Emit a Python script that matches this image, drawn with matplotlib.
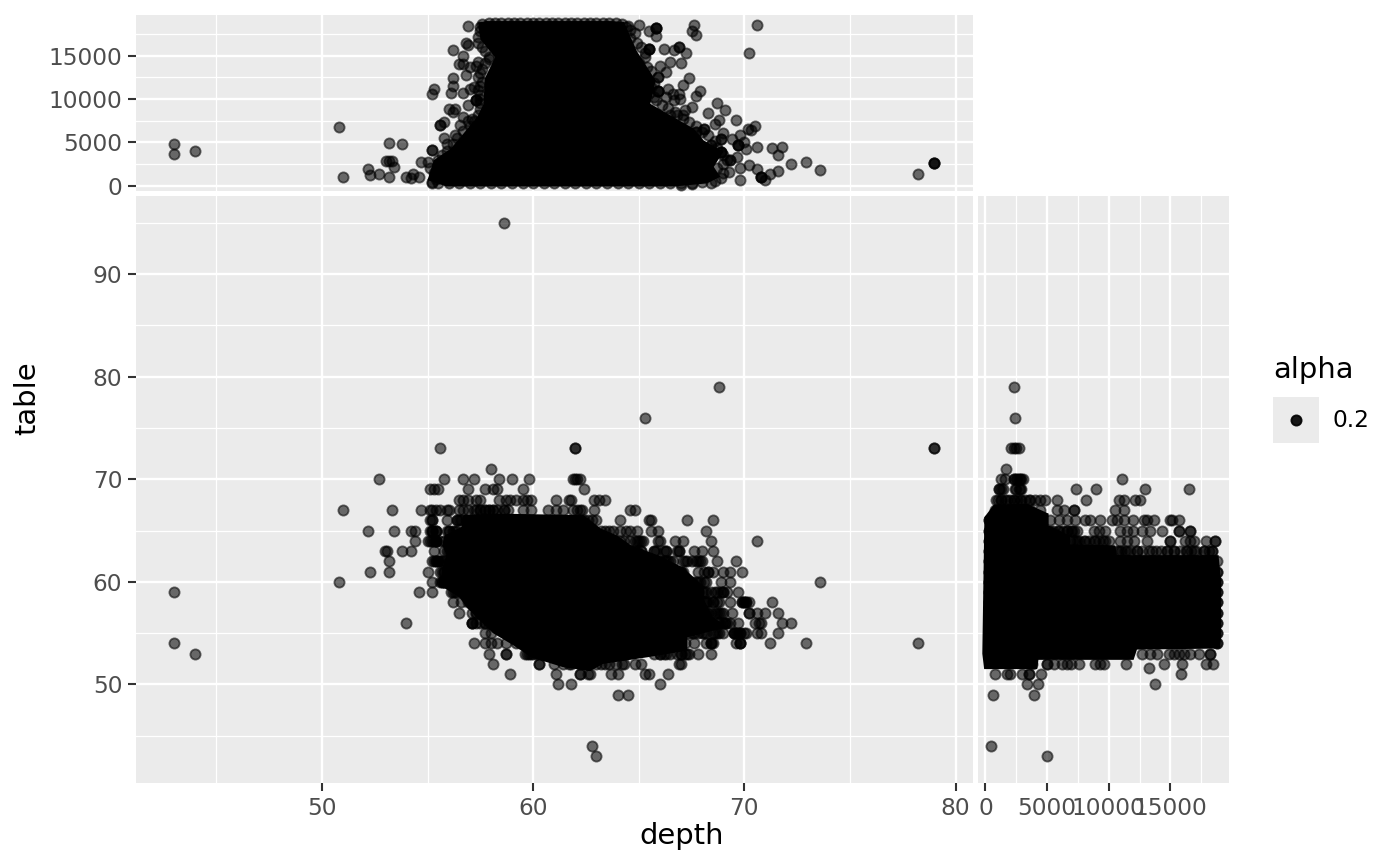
import matplotlib
matplotlib.use("Agg")
import matplotlib.pyplot as plt
import numpy as np
from matplotlib.ticker import FixedLocator

# scattered points of the depth / table panel, one row per table value
main_tables = [73, 71, 70, 69, 68, 67, 66, 65, 64, 63, 62, 61, 60, 59, 58, 57, 56, 55, 54, 53, 52, 51, 50, 49]
main_depths = [
    [55.6, 62.0, 62.0],
    [58.0],
    [52.7, 55.8, 56.7, 57.2, 58.4, 59.0, 59.8, 61.9, 62.0, 62.1, 62.2],
    [55.1, 55.3, 55.5, 56.9, 57.7, 58.1, 58.3, 59.5, 62.4],
    [56.5, 56.7, 56.9, 57.3, 57.5, 58.4, 58.7, 58.9, 59.2, 59.5, 59.7, 59.9, 61.1, 61.7, 61.8, 62.9, 63.1, 63.4],
    [51.0, 53.3, 54.7, 55.1, 55.2, 55.4, 55.6, 55.9, 56.0, 56.5, 56.7, 56.9, 57.2, 57.5, 57.7, 57.9, 58.1, 58.6,
     59.5, 59.9, 60.7, 61.1, 61.4, 61.9, 62.1, 62.2, 62.3, 62.9, 64.6, 64.8],
    [55.1, 55.2, 55.2, 55.9, 56.4, 62.8, 63.0, 64.1, 65.5, 65.6, 67.3, 68.5],
    [52.2, 53.4, 54.2, 54.4, 55.2, 55.2, 55.4, 55.4, 56.0, 56.3, 63.6, 63.8, 64.1, 64.4, 64.6, 64.9, 65.6, 65.9, 68.2],
    [54.4, 55.2, 55.4, 55.4, 64.1, 64.6, 64.9, 65.1, 65.9, 66.0, 66.7, 67.1, 68.4, 70.6],
    [53.0, 53.1, 53.8, 54.2, 55.3, 55.9, 64.8, 65.1, 65.7, 66.3, 66.9, 67.6, 68.0, 68.5],
    [53.2, 55.4, 55.5, 55.5, 66.0, 66.3, 66.5, 67.2, 67.8, 68.0, 68.7, 69.6],
    [52.3, 53.2, 55.0, 55.8, 55.8, 66.8, 67.0, 67.8, 68.3, 69.0, 69.3, 69.9],
    [50.8, 55.2, 55.7, 55.8, 55.8, 68.2, 67.8, 68.9, 69.3, 73.6],
    [54.6, 55.2, 56.3, 56.4, 67.3, 67.8, 68.1, 68.6, 69.0, 69.7],
    [56.2, 56.9, 57.0, 67.1, 67.6, 68.2, 68.5, 69.3, 69.9, 70.0, 70.1, 71.3],
    [56.5, 57.1, 57.3, 57.5, 68.1, 68.3, 68.7, 69.0, 69.4, 70.2, 70.2, 70.6, 71.0, 71.6],
    [54.0, 57.1, 57.1, 57.7, 68.1, 68.7, 69.1, 69.7, 70.5, 70.7, 70.8, 71.8, 72.2],
    [57.7, 58.0, 67.5, 68.1, 68.7, 69.5, 69.5, 69.8, 70.1, 70.6, 70.8, 71.6],
    [57.2, 57.7, 58.0, 58.3, 58.7, 67.6, 68.4, 68.4, 69.8, 69.8, 71.2, 72.9, 78.2, 43.0],
    [57.9, 58.7, 58.7, 59.7, 59.9, 66.0, 66.3, 67.0, 67.3, 67.8, 68.4, 44.0],
    [58.1, 60.3, 60.3, 61.0, 61.4, 61.7, 63.6, 64.2, 64.8, 65.1, 66.9, 67.0],
    [58.9, 61.1, 62.2, 62.6, 62.2, 62.7, 63.7, 64.0, 65.3, 65.5, 66.4],
    [61.2, 61.8, 66.0],
    [64.0, 64.5],
]
outlier_depth = [43.0, 58.6, 68.8, 65.3, 79.0, 79.0, 62.8, 63.0]
outlier_table = [59, 95, 79, 76, 73, 73, 44, 43]

# dark, crowded rows around the solid part of the cloud
halo_tables = [67, 66, 65, 64, 63, 62, 61, 60, 59, 58, 57, 56, 55, 54, 53, 52]
halo_depths = [
    [57.3, 57.5, 57.7, 57.9, 58.1, 58.3, 58.6, 58.8],
    [56.4, 56.5, 56.6, 56.8, 62.4, 62.6],
    [55.1, 55.2, 55.4, 55.9, 56.0, 56.2, 56.4, 63.2, 63.4],
    [55.0, 55.1, 55.3, 55.4, 55.6, 55.8, 56.0, 56.2, 56.4, 64.3, 64.8, 65.0, 65.2],
    [55.8, 56.0, 64.9, 65.1, 65.7, 65.8, 66.2, 66.3, 66.8, 66.9],
    [55.2, 55.3, 55.4, 55.6, 55.7, 55.8, 56.0, 66.0, 66.2, 66.4, 66.6, 67.1, 67.3, 67.5, 67.7, 67.9],
    [55.6, 55.7, 66.6, 66.8, 67.0, 67.1, 68.1, 68.3, 68.5],
    [55.6, 55.7, 55.8, 67.1, 67.3, 67.5, 67.7, 67.9, 68.1],
    [56.1, 56.2, 67.4, 67.6, 67.8, 68.0, 68.2, 68.4, 68.7, 68.9, 69.0, 69.2],
    [56.6, 68.1, 68.2, 68.3, 68.5, 68.7, 68.8, 69.9, 70.0, 70.1, 70.2],
    [57.3, 57.5, 68.0, 68.2, 68.4, 68.6, 68.8, 68.9],
    [57.1, 57.3, 57.5, 57.7, 57.9, 58.1, 68.8, 69.0, 69.1, 69.2, 69.3],
    [67.4, 67.6, 67.8, 68.0, 68.2, 68.5, 68.6, 68.8, 69.0, 69.5, 69.6, 69.7, 69.8, 70.0],
    [59.2, 59.4, 67.2, 68.2, 68.4, 68.5, 69.6, 69.8],
    [59.6, 59.8, 60.0, 60.2, 60.4, 60.6, 65.7, 66.0, 66.2, 66.5, 66.8, 67.0, 67.2, 67.4],
    [61.8, 62.2, 62.6, 63.0, 63.2, 63.4, 63.9, 64.3],
]

# solid black part of the depth / table cloud
core_depth = [56.7, 56.6, 55.8, 55.7, 55.9, 55.7, 55.6, 56.5, 56.9, 57.5, 58.1, 59.2, 59.9, 61.4, 62.7, 63.3, 65.4,
              67.3, 67.3, 69.2, 68.5, 68.1, 68.1, 67.1, 65.9, 64.6, 64.0, 63.2, 62.4, 58.3]
core_table = [66.5, 65.35, 64.5, 63.6, 62.6, 61.3, 59.65, 58.5, 57.4, 56.2, 55.0, 53.65, 52.65, 51.7, 51.3, 52.0, 52.65,
              53.3, 54.6, 55.6, 56.6, 58.2, 59.5, 61.4, 62.6, 63.6, 64.5, 65.2, 66.5, 66.65]

# scattered points of the price / table panel
side_tables = [79, 76, 73, 71, 70, 69, 68, 67, 66, 65, 64, 63, 62, 53, 52, 51, 50, 49, 44, 43]
side_prices = [
    [2321],
    [2375],
    [2078, 2294, 2510, 2726],
    [1646],
    [1268, 1619, 2294, 2564, 2834, 3050, 11096],
    [1079, 1403, 2429, 2834, 7343, 8990, 12932, 16523],
    [890, 1268, 1754, 2294, 2834, 3644, 4049, 4454, 4859, 5804, 8180, 10800, 11258, 12149, 12554],
    [809, 1484, 3644, 4454, 5804, 6344, 7208, 7208, 10529, 11258],
    [5264, 5939, 6614, 7289, 8099, 8504, 9314, 10259, 10664, 11204, 11960, 12824, 13094, 13688, 14930, 15119, 15659],
    [5939, 6614, 7019, 7424, 8774, 9179, 9719, 10934, 11474, 11960, 12689, 13364, 14309, 15659, 15659, 16604, 16604],
    [6884, 7424, 8099, 8909, 9719, 10934, 11474, 12014, 13094, 14930, 14930, 16199, 16604, 16874, 17900, 18575, 18575],
    [10799, 11474, 12284, 13499, 14714, 15254, 16334, 16874, 17684, 18359],
    [18764],
    [12690, 13365, 13905, 14850, 15255, 15660, 16065, 16605, 17280, 18225, 18225],
    [3780, 5000, 5000, 5535, 6210, 6615, 6966, 7614, 8910, 9315, 9640, 11394, 14499, 15957, 17901, 18441],
    [810, 1755, 1971, 2970, 3510, 3510, 4509, 15876],
    [3375, 4239, 13770],
    [648, 3969],
    [486],
    [5000],
]
extra_price = [13230]
extra_table = [51.6]

side_halo_tables = [70, 69, 68, 66, 65, 64, 63, 62, 61, 60, 59, 58, 57, 56, 55, 54, 53]
side_halo_prices = [
    [2300, 2500, 2700, 2900],
    [1100, 1300, 2500, 2700, 2900],
    [1000, 1300, 1600, 2000, 2300, 2600, 2900, 3200, 3500],
    [330, 330],
    [330, 330, 5200, 5500, 5900, 6300, 6600, 6900, 7200],
    [330, 330, 7100, 7300, 7600, 8000, 8400, 8800, 9200, 9500, 10000],
    [330, 330, 10700, 11000, 11300, 11700, 12300, 12700, 13300, 13800, 14200, 14700, 15300, 15800, 16300, 16700, 17100,
     17700, 18100, 18400],
    [330, 330],
    [330, 330, 18800, 18800],
    [330, 330, 18800, 18800],
    [330, 330, 18800, 18800],
    [330, 330, 18800, 18800],
    [330, 330, 18800, 18800],
    [330, 330, 18800, 18800],
    [330, 330, 18800, 18800],
    [330, 330, 18800, 18800],
    [330, 330],
]

side_core_price = [-82, 674, 3374, 5129, 5129, 6884, 6884, 10529, 10664, 18899, 19100, 19100, 19034, 12284, 12014,
                   4300, 4200, -100, -250]
side_core_table = [66.3, 67.5, 67.6, 66.65, 65.5, 64.5, 63.65, 63.55, 62.6, 62.6, 60.1, 54.6, 53.5, 53.4, 52.4,
                   52.4, 51.5, 51.5, 53.0]

# scattered points of the depth / price panel
top_depth = [43.0, 43.0, 44.0, 50.8, 51.0, 53.2, 53.8, 52.2, 52.3, 52.7, 53.2, 53.05, 53.2, 53.3, 53.4, 54.0, 54.2,
             54.3, 54.6, 54.7, 55.0, 55.2, 55.2, 55.2, 55.2, 55.3, 55.8, 55.9, 55.6, 55.6, 55.8, 56.1, 56.2, 56.2,
             56.7, 56.2, 56.7, 56.9, 56.8, 56.9, 56.5, 56.7, 56.8, 57.0, 57.4, 57.9, 57.0, 57.2, 57.3, 57.3, 57.3,
             56.9, 56.0, 56.3, 56.2, 56.7, 56.9, 56.55, 56.3, 57.1,
             65.0, 64.5, 65.8, 65.8, 65.8, 65.8, 65.5, 67.6, 67.5, 67.7, 70.6, 70.2, 66.9, 66.9, 67.25, 66.2, 66.65,
             65.5, 65.5, 65.5, 67.0, 66.5, 66.0, 66.3, 65.9, 65.9, 67.4, 67.1, 67.9, 67.7, 65.9, 65.9, 65.9, 66.4,
             66.6, 66.9, 66.3, 66.65, 66.95, 67.5, 68.7, 69.1, 68.3, 68.8, 69.6, 70.5, 70.15, 70.3, 66.5, 66.8, 67.1,
             67.2, 68.6, 68.1, 68.1, 67.7, 67.7, 69.0, 69.4, 69.8, 70.0, 69.7, 69.7, 69.7, 68.9, 68.9, 68.4, 68.4,
             70.6, 71.3, 71.8, 71.6, 70.1, 72.2, 72.9, 73.6, 71.6, 71.2, 70.8, 70.8, 70.8, 71.0, 70.6, 70.2, 69.8,
             69.8, 69.25, 69.3, 69.3, 69.65, 68.9, 68.9, 68.9, 78.2, 79.0, 79.0, 79.0]
top_price = [4775, 3625, 4010, 6730, 980, 4966, 4775, 1940, 1213, 1327, 1020, 2821, 2821, 2821, 2170, 1020, 830,
             1327, 1020, 2706, 2706, 4085, 4085, 447, 10596, 11170, 5540, 4850, 6960, 6960, 7340, 10710, 11477, 12434,
             10710, 15650, 15000, 18486, 16420, 16264, 14043, 14043, 12818, 13660, 14235, 14810, 11170, 11362, 9830,
             9830, 9830, 9332, 8872, 8872, 8490, 7915, 7455, 6958, 5800, 7724,
             18562, 18450, 18256, 18256, 18256, 17300, 17870, 18524, 17870, 17375, 18524, 15307, 16035, 16035, 15269,
             15767, 15650, 15767, 15767, 15767, 14158, 14235, 13852, 13085, 12510, 12510, 12434, 11668, 10900, 10400,
             10900, 10900, 10900, 11170, 10600, 10600, 10213, 9830, 10022, 9064, 9524, 8758, 8375, 7532, 7608, 6843,
             6575, 6400, 8106, 8106, 8106, 8680, 7072, 6575, 6575, 6190, 6190, 6077, 5425, 5885, 5043, 4660, 4660,
             4660, 5349, 5349, 4660, 4660, 4468, 4391, 4468, 3587, 4276, 2515, 2706, 1787, 1710, 1327, 1020, 1020,
             1020, 640, 1864, 2362, 1978, 600, 1600, 3013, 3013, 3320, 3900, 3900, 3900, 1290, 2590, 2590, 2590]

top_halo_depth = [55.1, 55.3, 55.4, 55.2, 55.5, 55.7, 55.9, 56.2, 56.4, 56.7, 57.0, 57.2, 57.4, 57.5,
                  57.5, 57.5, 57.5, 57.4, 57.5, 57.6, 57.4, 57.5, 57.6, 57.3, 57.7, 57.9, 57.7, 57.6, 57.4, 57.4,
                  57.5, 57.5, 57.6,
                  64.2, 64.4, 64.6, 64.8, 64.6, 64.9, 65.1, 65.3, 65.3, 65.0, 65.4, 65.6, 65.3, 65.7, 65.6, 65.5,
                  65.7, 65.8, 66.1, 66.4, 66.7, 67.1, 67.4, 67.7, 68.0, 68.3, 68.6, 68.7, 69.0, 69.2, 69.0, 68.7,
                  69.0, 68.9, 68.6, 68.4, 68.0, 67.5, 67.0,
                  55.5, 56.0, 56.5, 57.0, 57.5, 58.0, 58.5, 59.0, 59.5, 60.0, 60.5, 61.0, 61.5, 62.0, 62.5, 63.0,
                  63.5, 64.0, 64.5, 65.0, 65.5, 66.0, 66.5, 67.0, 67.5,
                  57.9, 58.2, 58.5, 58.8, 59.1, 59.4, 59.7, 60.0, 60.3, 60.6, 60.9, 61.2, 61.5, 61.8, 62.1, 62.4,
                  62.7, 63.0, 63.3, 63.6, 63.9]
top_halo_price = [2000, 1500, 800, 300, 3000, 3500, 4000, 4800, 5500, 6300, 6900, 7500, 8200, 8800,
                  9500, 10000, 10500, 11000, 11500, 12000, 12500, 13000, 13500, 13800, 14200, 14600, 15500, 16000,
                  16500, 17200, 17800, 18300, 18700,
                  18700, 18300, 18000, 17600, 17000, 16500, 16000, 15300, 14800, 14200, 13700, 13200, 12700, 11800,
                  11400, 10700, 10200, 9900, 9300, 9000, 8500, 7700, 7300, 6900, 6200, 5800, 5200, 4400, 3500, 3000,
                  2500, 2000, 1500, 900, 500, 300, 400, 200, 100,
                  340, 340, 340, 340, 340, 340, 340, 340, 340, 340, 340, 340, 340, 340, 340, 340,
                  340, 340, 340, 340, 340, 340, 340, 340, 340,
                  18800, 18800, 18800, 18800, 18800, 18800, 18800, 18800, 18800, 18800, 18800, 18800, 18800, 18800,
                  18800, 18800, 18800, 18800, 18800, 18800, 18800]

top_core_depth = [57.4, 57.5, 58.2, 57.7, 57.66, 57.35, 56.7, 56.1, 55.3, 55.0, 55.9, 66.65, 68.23, 68.86, 68.55,
                  69.0, 68.07, 67.6, 66.5, 65.55, 65.8, 64.9, 64.3, 63.66, 57.8]
top_core_price = [18830, 16920, 14810, 12320, 9450, 7915, 6000, 4276, 2936, 640, -100, -100, 255, 1020, 2170,
                  3900, 5235, 6575, 8106, 9450, 12128, 15575, 18900, 19000, 19000]

depth_ticks = [50, 60, 70, 80]
depth_minor = [45, 55, 65, 75]
table_ticks = [50, 60, 70, 80, 90]
table_minor = [45, 55, 65, 75, 85, 95]
price_ticks = [0, 5000, 10000, 15000]
price_minor = [2500, 7500, 12500, 17500]

W, H = 1400, 866
PANEL = "#EBEBEB"
plt.rcParams["font.family"] = "DejaVu Sans"


def panel(left, top, right, bottom):
    # pixel box (from the top left) to a themed axes
    ax = fig.add_axes([left / W, 1 - bottom / H, (right - left) / W, (bottom - top) / H])
    ax.set_facecolor(PANEL)
    ax.set_axisbelow(True)
    for s in ax.spines.values():
        s.set_visible(False)
    ax.grid(which="major", color="white", lw=0.85)
    ax.grid(which="minor", color="white", lw=0.45)
    ax.tick_params(which="major", length=2.75, width=0.75, color="#333333", labelcolor="#4D4D4D",
                   labelsize=8.36, pad=2.2)
    ax.tick_params(which="minor", length=0)
    return ax


def dots(ax, x, y):
    ax.scatter(x, y, s=13.5, c="black", alpha=0.56, linewidths=0.65, edgecolors="black", zorder=3)


def rows(ax, row_keys, row_values):
    dots(ax, np.concatenate(row_values), np.repeat(row_keys, [len(r) for r in row_values]))


def ticks(axis, major, minor):
    axis.set_major_locator(FixedLocator(major))
    axis.set_minor_locator(FixedLocator(minor))


fig = plt.figure(figsize=(7, 4.33), dpi=200)

# main panel
ax = panel(136, 196, 972.5, 783)
ax.set_xlim(41.2, 80.8)
ax.set_ylim(40.4, 97.6)
ticks(ax.xaxis, depth_ticks, depth_minor)
ticks(ax.yaxis, table_ticks, table_minor)
ax.fill(core_depth, core_table, color="black", lw=0, zorder=2)
rows(ax, main_tables, main_depths)
rows(ax, halo_tables, halo_depths)
dots(ax, outlier_depth, outlier_table)

# marginal on top
top = panel(136, 15, 972.5, 191)
top.set_xlim(41.2, 80.8)
top.set_ylim(-620, 19700)
ticks(top.xaxis, depth_ticks, depth_minor)
ticks(top.yaxis, price_ticks, price_minor)
top.tick_params(axis="x", which="both", length=0, labelbottom=False)
top.fill(top_core_depth, top_core_price, color="black", lw=0, zorder=2)
dots(top, top_depth, top_price)
dots(top, top_halo_depth, top_halo_price)

# marginal on the right
side = panel(978, 196, 1229, 783)
side.set_xlim(-599, 19748)
side.set_ylim(40.4, 97.6)
ticks(side.xaxis, price_ticks, price_minor)
ticks(side.yaxis, table_ticks, table_minor)
side.tick_params(axis="y", which="both", length=0, labelleft=False)
side.fill(side_core_price, side_core_table, color="black", lw=0, zorder=2)
rows(side, side_tables, side_prices)
rows(side, side_halo_tables, side_halo_prices)
dots(side, extra_price, extra_table)

# titles
fig.text(682 / W, 1 - 836 / H, "depth", fontsize=10.45, color="black", ha="center", va="center")
fig.text(27 / W, 1 - 398 / H, "table", fontsize=10.45, color="black", ha="center", va="center", rotation=90)

# legend
key = fig.add_axes([1273 / W, 1 - 443 / H, 46 / W, 46 / H])
key.set_facecolor(PANEL)
key.set_xticks([])
key.set_yticks([])
for s in key.spines.values():
    s.set_visible(False)
key.set_xlim(0, 1)
key.set_ylim(0, 1)
key.scatter([0.5], [0.5], s=13.5, c="black", alpha=0.9, linewidths=0.65, edgecolors="black")
fig.text(1273 / W, 1 - 370 / H, "alpha", fontsize=10.45, color="black", ha="left", va="center")
fig.text(1333 / W, 1 - 420 / H, "0.2", fontsize=8.36, color="black", ha="left", va="center")

fig.savefig("out.png", dpi=200)
